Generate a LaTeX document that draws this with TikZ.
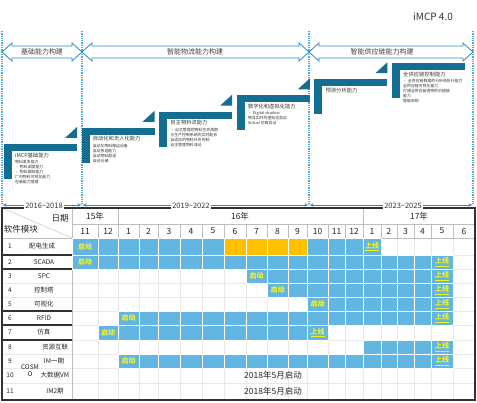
\documentclass[tikz,border=0pt]{standalone}
\usepackage{fontspec}
\setmainfont{Noto Sans CJK SC}
\usepackage{tikz}
\usetikzlibrary{arrows}
\usetikzlibrary{positioning}
\definecolor{mstep}{RGB}{20,110,145}
\definecolor{mblue}{RGB}{50,135,190}
\definecolor{mdot}{RGB}{70,175,220}
\definecolor{mcell}{RGB}{100,182,226}
\definecolor{morange}{RGB}{255,192,0}
\definecolor{myellow}{RGB}{240,240,40}
\definecolor{mgrid}{RGB}{190,190,190}
\definecolor{mfaint}{RGB}{232,232,232}
\definecolor{mframe}{RGB}{50,50,50}
\tikzset{
  cell/.style={fill=mcell, draw=white, line width=0.8pt},
  tag/.style={text=myellow, inner sep=0pt, font=\fontsize{7}{7}\selectfont\bfseries},
  steptitle/.style={anchor=west, inner sep=0pt, text=black!80, font=\fontsize{5.3}{5.3}\selectfont},
  stepitems/.style={align=left, inner sep=0pt, text=black!80, font=\fontsize{3.9}{5}\selectfont},
  rowname/.style={inner sep=0pt, text=black!85, font=\fontsize{6.5}{7}\selectfont},
  head/.style={inner sep=0pt, text=black!85, font=\fontsize{8.5}{9}\selectfont}
}
\def\colx{{72,98,118,139,158,180,202,224,246,267,288,307,328,345,363,381,397,414,431,453,475}}
\def\rowy{{238,255,269,283,297,311,325,340,354,368,383,400}}

\begin{document}
\begin{tikzpicture}[x=1pt, y=-1pt]
    \useasboundingbox (0, 0) rectangle (477, 403);
    \node [font=\fontsize{10}{10}\selectfont, text=black!80] (ver) at (433, 17) {iMCP 4.0};

    % phases
    \foreach \x in {2, 82, 309, 473} {
      \draw [mdot, densely dotted, line width=1.3pt] (\x, 31) -- (\x, 204);
    }
    \foreach \a/\b/\m/\t/\n in {2/82/42/基础能力构建/p1, 82/309/195/智能物流能力构建/p2, 309/473/382/智能供应链能力构建/p3} {
      \draw [mblue, fill=white, line width=0.8pt] (\a, 52) -- (\a+10, 43) -- (\a+10, 46) -- (\b-10, 46) -- (\b-10, 43) -- (\b, 52) -- (\b-10, 61) -- (\b-10, 58) -- (\a+10, 58) -- (\a+10, 61) -- cycle;
      \node [font=\fontsize{7}{7}\selectfont, inner sep=0pt, text=black!75] (\n) at (\m, 52) {\t};
    }

    % steps
    \foreach \i in {0, ..., 5} {
      \pgfmathsetmacro\sx{4 + 77.6*\i}
      \pgfmathsetmacro\sy{144 - 16.2*\i}
      \fill [mstep] (\sx, \sy) rectangle ++(73, 7);
      \fill [mstep] (\sx, \sy) rectangle ++(8, 35);
      \ifnum\i<5
        \fill [mstep] (\sx+61, \sy-6) -- ++(12, 0) -- ++(0, -11) -- cycle;
      \fi
      \coordinate (s\i) at (\sx+11, \sy+11);
    }
    \node [steptitle] (t0) at (s0) {iMCP基础能力};
    \node [stepitems, below=2.5pt of t0.south west, anchor=north west] (l0) {物料收发能力\\• 物料调度能力\\• 物料跟踪能力\\厂内物料可视化能力\\包装能力管理};
    \node [steptitle] (t1) at (s1) {自动化和无人化能力};
    \node [stepitems, below=2.5pt of t1.south west, anchor=north west] (l1) {自动化物料搬运设备\\自动拣选能力\\自动物料配送\\自动仓储};
    \node [steptitle] (t2) at (s2) {自主物料流能力};
    \node [stepitems, below=2.5pt of t2.south west, anchor=north west] (l2) {• 自主管理的物料生命周期\\与生产控制系统的实时配合\\自适应的物料补充控制\\自主管理物料流动};
    \node [steptitle] (t3) at (s3) {数字化和虚拟化能力};
    \node [stepitems, below=2.5pt of t3.south west, anchor=north west] (l3) {• Digital shadow\\物流实时的虚拟化验证\\Virtual 仿真验证};
    \node [steptitle] (t4) at (s4) {预测分析能力};
    \node [steptitle] (t5) at (s5) {全供应链控制能力};
    \node [stepitems, below=2.5pt of t5.south west, anchor=north west] (l5) {• 全供应链数据的分析和执行能力\\全供应链可视化能力\\打通全供应链透明的价值链\\能力\\智能采购};

    % table
    \foreach \c in {0, ..., 20} {
      \pgfmathsetmacro\xa{\colx[\c]}
      \draw [mfaint] (\xa, 238) -- (\xa, 400);
      \draw [mgrid] (\xa, 224) -- (\xa, 238);
    }
    \foreach \r in {1, ..., 10} {
      \pgfmathsetmacro\ya{\rowy[\r]}
      \draw [mfaint] (2, \ya) -- (475, \ya);
    }
    \draw [mgrid] (72, 224) -- (475, 224);
    \draw [mgrid] (118, 208) -- (118, 224);
    \draw [mgrid] (363, 208) -- (363, 224);
    \draw [mgrid] (2, 238) -- (475, 238);
    \draw [mgrid] (72, 208) -- (72, 400);
    \draw [mgrid] (2, 208) -- (72, 238);

    \node [head] (d) at (60, 218) {日期};
    \node [head] (mod) at (21, 229) {软件模块};
    \node [head] (yr15) at (95, 216) {15年};
    \node [head] (yr16) at (240, 216) {16年};
    \node [head] (yr17) at (419, 216) {17年};
    \foreach \m [count=\c] in {11,12,1,2,3,4,5,6,7,8,9,10,11,12,1,2,3,4,5,6} {
      \pgfmathsetmacro\xa{\colx[\c-1]}
      \pgfmathsetmacro\xb{\colx[\c]}
      \node [head] (m\c) at ({(\xa+\xb)/2}, 231) {\m};
    }

    \foreach \r/\a/\b in {1/1/15, 2/1/19, 3/9/19, 4/10/19, 5/12/19, 6/3/19, 7/2/12, 8/15/19, 9/3/19} {
      \pgfmathsetmacro\ya{\rowy[\r-1]}
      \pgfmathsetmacro\yb{\rowy[\r]}
      \foreach \c in {\a, ..., \b} {
        \pgfmathsetmacro\xa{\colx[\c-1]}
        \pgfmathsetmacro\xb{\colx[\c]}
        \draw [cell] (\xa, \ya) rectangle (\xb, \yb);
      }
    }
    \foreach \c in {8, ..., 11} {
      \pgfmathsetmacro\xa{\colx[\c-1]}
      \pgfmathsetmacro\xb{\colx[\c]}
      \draw [cell, fill=morange] (\xa, 238) rectangle (\xb, 255);
    }
    \foreach \r/\c in {1/1, 2/1, 3/9, 4/10, 5/12, 6/3, 7/2, 9/3} {
      \pgfmathsetmacro\xa{\colx[\c-1]}
      \pgfmathsetmacro\xb{\colx[\c]}
      \pgfmathsetmacro\ya{\rowy[\r-1]}
      \pgfmathsetmacro\yb{\rowy[\r]}
      \node [tag] (go\r) at ({(\xa+\xb)/2}, {(\ya+\yb)/2}) {启动};
    }
    \foreach \r/\c in {1/15, 2/19, 3/19, 4/19, 5/19, 6/19, 7/12, 8/19, 9/19} {
      \pgfmathsetmacro\xa{\colx[\c-1]}
      \pgfmathsetmacro\xb{\colx[\c]}
      \pgfmathsetmacro\ya{\rowy[\r-1]}
      \pgfmathsetmacro\yb{\rowy[\r]}
      \node [tag] (up\r) at ({(\xa+\xb)/2}, {(\ya+\yb)/2}) {\underline{上线}};
    }

    \foreach \r/\t/\x in {1/配电生成/42, 2/SCADA/44, 3/SPC/44, 4/控制塔/44, 5/可视化/44, 6/RFID/44, 7/仿真/44, 8/资源互联/55, 9/IM一期/54, 10/大数据VM/55, 11/IM2期/55} {
      \pgfmathsetmacro\ya{\rowy[\r-1]}
      \pgfmathsetmacro\yb{\rowy[\r]}
      \node [rowname] (k\r) at (10, {(\ya+\yb)/2}) {\r};
      \node [rowname] (n\r) at (\x, {(\ya+\yb)/2}) {\t};
    }
    \node [rowname, align=center] (cosmo) at (30, 371) {COSM\\O};
    \node [head] (vm) at (273, 375.5) {2018年5月启动};
    \node [head] (im2) at (273, 391.5) {2018年5月启动};

    \foreach \y in {255, 269, 311, 325, 340} {
      \draw [mframe, line width=1.2pt] (2, \y) -- (72, \y);
    }
    \draw [mframe, line width=1.5pt] (2, 208) rectangle (475, 400);

    % years
    \foreach \a/\b/\m/\t/\n in {2/82/44/2016\textasciitilde 2018/y1, 82/309/191/2019\textasciitilde 2022/y2, 309/473/403/2023\textasciitilde 2025/y3} {
      \draw [mblue, latex'-latex', line width=0.6pt] (\a, 205) -- (\b, 205);
      \node [fill=white, inner sep=1pt, text=black!80, font=\fontsize{7.5}{8}\selectfont] (\n) at (\m, 206) {\t};
    }
\end{tikzpicture}
\end{document}
